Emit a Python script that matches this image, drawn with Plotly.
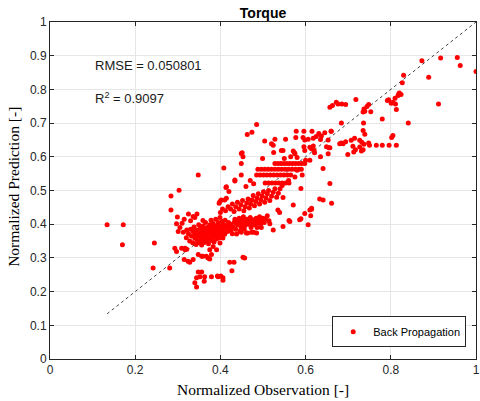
import plotly.graph_objects as go

# values, grouped by region of the scatter
# lone points far from the diagonal (left side)
left_obs = [0.134, 0.172, 0.170, 0.245, 0.242, 0.281, 0.284, 0.284, 0.303, 0.348, 0.408]
left_pred = [0.398, 0.398, 0.339, 0.344, 0.270, 0.270, 0.442, 0.484, 0.501, 0.546, 0.567]

# low tail under the main cluster
tail_obs = [0.293, 0.297, 0.317, 0.321, 0.315, 0.328, 0.336, 0.348, 0.356, 0.367, 0.375, 0.379,
            0.348, 0.356, 0.344, 0.352, 0.363, 0.379, 0.395, 0.406, 0.340, 0.344, 0.362, 0.393,
            0.401, 0.406, 0.422, 0.432, 0.427, 0.453, 0.457, 0.309, 0.317, 0.324, 0.375, 0.383,
            0.391, 0.399, 0.406, 0.359, 0.371]
tail_pred = [0.329, 0.319, 0.329, 0.326, 0.295, 0.287, 0.295, 0.310, 0.305, 0.305, 0.297, 0.310,
             0.258, 0.258, 0.241, 0.244, 0.244, 0.244, 0.244, 0.241, 0.226, 0.214, 0.231, 0.246,
             0.246, 0.234, 0.287, 0.287, 0.262, 0.302, 0.300, 0.329, 0.324, 0.290, 0.324, 0.334,
             0.324, 0.344, 0.359, 0.305, 0.300]

# dense core around (0.37, 0.37)
core_obs = [0.320, 0.325, 0.328, 0.330, 0.332, 0.335, 0.336, 0.338, 0.340, 0.341, 0.343, 0.344,
            0.346, 0.347, 0.349, 0.350, 0.351, 0.353, 0.354, 0.355, 0.356, 0.357, 0.358, 0.359,
            0.360, 0.361, 0.362, 0.363, 0.364, 0.365, 0.366, 0.367, 0.368, 0.369, 0.370, 0.371,
            0.372, 0.373, 0.374, 0.375, 0.376, 0.377, 0.378, 0.379, 0.380, 0.381, 0.382, 0.383,
            0.384, 0.385, 0.386, 0.387, 0.388, 0.389, 0.390, 0.391, 0.392, 0.393, 0.394, 0.395,
            0.396, 0.397, 0.398, 0.399, 0.400, 0.401, 0.402, 0.404, 0.405, 0.406, 0.408, 0.410,
            0.411, 0.413, 0.415, 0.417, 0.419, 0.421, 0.423, 0.425,
            0.299, 0.336, 0.297, 0.310, 0.301, 0.313, 0.321, 0.359, 0.305, 0.315, 0.325, 0.330,
            0.345, 0.340]
core_pred = [0.360, 0.372, 0.350, 0.385, 0.365, 0.345, 0.378, 0.392, 0.358, 0.370, 0.340, 0.383,
             0.352, 0.365, 0.398, 0.375, 0.345, 0.388, 0.360, 0.370, 0.338, 0.380, 0.352, 0.395,
             0.365, 0.374, 0.346, 0.386, 0.358, 0.405, 0.368, 0.378, 0.350, 0.390, 0.362, 0.372,
             0.342, 0.384, 0.356, 0.398, 0.366, 0.376, 0.412, 0.352, 0.388, 0.360, 0.370, 0.402,
             0.380, 0.347, 0.392, 0.364, 0.374, 0.415, 0.384, 0.356, 0.396, 0.368, 0.378, 0.405,
             0.388, 0.360, 0.372, 0.420, 0.382, 0.394, 0.366, 0.408, 0.376, 0.388, 0.398, 0.370,
             0.412, 0.385, 0.395, 0.378, 0.405, 0.390, 0.400, 0.382,
             0.421, 0.423, 0.401, 0.403, 0.378, 0.376, 0.383, 0.411, 0.390, 0.415, 0.430, 0.410,
             0.430, 0.420]

# flat band at 0.37-0.43 to the right of the core
band_obs = [0.428, 0.430, 0.432, 0.434, 0.436, 0.438, 0.440, 0.442, 0.444, 0.446, 0.448, 0.450,
            0.452, 0.454, 0.456, 0.458, 0.460, 0.462, 0.464, 0.466, 0.468, 0.470, 0.472, 0.474,
            0.476, 0.478, 0.480, 0.482, 0.484, 0.486, 0.488, 0.490, 0.492, 0.495, 0.498, 0.500,
            0.503, 0.506, 0.510, 0.514, 0.449, 0.461, 0.473, 0.485, 0.496, 0.516, 0.524, 0.535,
            0.539, 0.547, 0.561, 0.571, 0.589, 0.606, 0.612, 0.614, 0.563, 0.586]
band_pred = [0.372, 0.392, 0.405, 0.415, 0.385, 0.371, 0.398, 0.408, 0.418, 0.379, 0.392, 0.402,
             0.412, 0.422, 0.385, 0.396, 0.405, 0.415, 0.374, 0.400, 0.410, 0.420, 0.390, 0.403,
             0.413, 0.376, 0.398, 0.408, 0.418, 0.390, 0.403, 0.412, 0.422, 0.400, 0.410, 0.418,
             0.405, 0.415, 0.425, 0.410, 0.376, 0.374, 0.376, 0.374, 0.390, 0.401, 0.383, 0.442,
             0.435, 0.393, 0.411, 0.457, 0.416, 0.398, 0.425, 0.444, 0.408, 0.413]

# slanted streaks from (0.40, 0.43) up to (0.55, 0.51)
slant_obs = [0.400, 0.405, 0.412, 0.418, 0.424, 0.428, 0.432, 0.436, 0.440, 0.444, 0.448, 0.452,
             0.455, 0.458, 0.462, 0.465, 0.468, 0.471, 0.474, 0.477, 0.480, 0.483, 0.486, 0.489,
             0.492, 0.495, 0.498, 0.501, 0.504, 0.507, 0.510, 0.513, 0.516, 0.520, 0.524, 0.528,
             0.532, 0.536, 0.540, 0.545, 0.413, 0.420, 0.402, 0.397, 0.414, 0.399, 0.410, 0.414,
             0.434, 0.434]
slant_pred = [0.435, 0.445, 0.440, 0.452, 0.445, 0.460, 0.438, 0.452, 0.465, 0.445, 0.458, 0.470,
              0.440, 0.452, 0.463, 0.475, 0.448, 0.460, 0.472, 0.485, 0.455, 0.467, 0.478, 0.490,
              0.460, 0.472, 0.484, 0.496, 0.465, 0.478, 0.490, 0.500, 0.470, 0.483, 0.495, 0.505,
              0.480, 0.492, 0.505, 0.515, 0.509, 0.497, 0.472, 0.462, 0.477, 0.467, 0.472, 0.511,
              0.531, 0.528]

# horizontal rows at 0.52-0.60
rows_obs = [0.528, 0.535, 0.542, 0.549, 0.556, 0.563, 0.570, 0.577, 0.584, 0.591, 0.598,
            0.488, 0.496, 0.504, 0.512, 0.520, 0.528, 0.536, 0.544, 0.552, 0.560, 0.568, 0.576,
            0.584, 0.590,
            0.485, 0.493, 0.501, 0.509, 0.517, 0.525, 0.533, 0.541, 0.549, 0.557, 0.565,
            0.505, 0.513, 0.521, 0.529, 0.537, 0.545, 0.553, 0.561,
            0.550, 0.565, 0.580, 0.600, 0.610, 0.592, 0.589, 0.547, 0.610, 0.598, 0.641, 0.657,
            0.641, 0.661, 0.614, 0.633, 0.499, 0.453, 0.449, 0.451, 0.449, 0.449, 0.470, 0.478,
            0.460, 0.560, 0.575, 0.580]
rows_pred = [0.580, 0.580, 0.580, 0.580, 0.580, 0.580, 0.580, 0.580, 0.580, 0.580, 0.580,
             0.563, 0.563, 0.563, 0.563, 0.563, 0.563, 0.563, 0.563, 0.563, 0.563, 0.563, 0.563,
             0.563, 0.563,
             0.546, 0.546, 0.546, 0.546, 0.546, 0.546, 0.546, 0.546, 0.546, 0.546, 0.546,
             0.522, 0.522, 0.522, 0.522, 0.522, 0.522, 0.522, 0.522,
             0.595, 0.600, 0.598, 0.590, 0.590, 0.546, 0.506, 0.479, 0.442, 0.432, 0.565, 0.521,
             0.472, 0.462, 0.447, 0.475, 0.595, 0.600, 0.610, 0.612, 0.580, 0.546, 0.530, 0.520,
             0.512, 0.530, 0.540, 0.560]

# group at 0.60-0.70
mid_obs = [0.485, 0.474, 0.463, 0.504, 0.528, 0.553, 0.524, 0.520, 0.578, 0.596, 0.615, 0.631,
           0.645, 0.660, 0.577, 0.594, 0.598, 0.606, 0.618, 0.625, 0.637, 0.653, 0.596, 0.610,
           0.618, 0.649, 0.655, 0.547, 0.571, 0.574, 0.598, 0.621, 0.635, 0.680, 0.688, 0.635,
           0.620, 0.525, 0.543, 0.614, 0.653, 0.575]
mid_pred = [0.696, 0.673, 0.666, 0.647, 0.652, 0.652, 0.634, 0.639, 0.676, 0.676, 0.676, 0.669,
            0.671, 0.676, 0.657, 0.657, 0.650, 0.652, 0.655, 0.660, 0.662, 0.650, 0.630, 0.628,
            0.632, 0.630, 0.627, 0.619, 0.617, 0.612, 0.619, 0.612, 0.651, 0.639, 0.639, 0.600,
            0.619, 0.613, 0.619, 0.624, 0.609, 0.609]

# upper right points
top_obs = [0.873, 0.917, 0.956, 0.963, 1.000, 0.889, 0.830, 0.827, 0.817, 0.820, 0.824, 0.819,
           0.810, 0.805, 0.801, 0.792, 0.795, 0.811, 0.813, 0.912, 0.718, 0.748, 0.744, 0.737,
           0.739, 0.753, 0.735, 0.657, 0.663, 0.672, 0.676, 0.685, 0.694, 0.780, 0.841, 0.736,
           0.735, 0.739, 0.684, 0.660, 0.805, 0.802, 0.727, 0.732, 0.737, 0.748, 0.750, 0.766,
           0.780, 0.796, 0.813, 0.684, 0.694, 0.707, 0.715, 0.711, 0.717, 0.727, 0.731, 0.713,
           0.699, 0.735, 0.657]
top_pred = [0.885, 0.893, 0.895, 0.871, 0.853, 0.836, 0.842, 0.820, 0.782, 0.789, 0.785, 0.787,
            0.774, 0.762, 0.759, 0.767, 0.769, 0.757, 0.740, 0.757, 0.770, 0.755, 0.749, 0.742,
            0.735, 0.734, 0.733, 0.747, 0.752, 0.762, 0.757, 0.757, 0.755, 0.712, 0.700, 0.700,
            0.678, 0.667, 0.700, 0.676, 0.663, 0.657, 0.649, 0.643, 0.637, 0.641, 0.634, 0.634,
            0.634, 0.634, 0.634, 0.641, 0.645, 0.649, 0.655, 0.631, 0.621, 0.629, 0.617, 0.614,
            0.607, 0.621, 0.627]

obs = left_obs + tail_obs + core_obs + band_obs + slant_obs + rows_obs + mid_obs + top_obs
pred = left_pred + tail_pred + core_pred + band_pred + slant_pred + rows_pred + mid_pred + top_pred

ref_line = [0.134, 1.0]
rmse = 0.050801
r2 = 0.9097

axis_col = '#262626'
serif = 'Liberation Serif, Times New Roman, serif'
fig = go.Figure()
fig.add_trace(go.Scatter(x=ref_line, y=ref_line, mode='lines',
                         line=dict(color='#444444', width=1, dash='dot'),
                         showlegend=False, hoverinfo='skip'))
fig.add_trace(go.Scatter(x=obs, y=pred, mode='markers', name='Back Propagation',
                         marker=dict(color='#ff0000', size=5, line=dict(width=0))))

fig.add_annotation(x=0.1, y=0.87, xref='x', yref='y', text='RMSE = %.6f' % rmse,
                   showarrow=False, xanchor='left', font=dict(size=13, color='#1a1a1a'))
fig.add_annotation(x=0.1, y=0.774, xref='x', yref='y', text='R<sup>2</sup> = %.4f' % r2,
                   showarrow=False, xanchor='left', font=dict(size=13, color='#1a1a1a'))
# axis titles
fig.add_annotation(x=0.5, y=-0.09, xref='paper', yref='paper', text='Normalized Observation [-]',
                   showarrow=False, xanchor='center', yanchor='middle',
                   font=dict(family=serif, size=15.5, color='#000000'))
fig.add_annotation(x=-0.086, y=0.512, xref='paper', yref='paper', text='Normalized Prediction [-]',
                   showarrow=False, xanchor='center', yanchor='middle', textangle=-90,
                   font=dict(family=serif, size=15.5, color='#000000'))

fig.update_layout(
    width=480, height=401,
    margin=dict(l=50, r=4, t=22, b=42, autoexpand=False),
    plot_bgcolor='white', paper_bgcolor='white',
    font=dict(family='Liberation Sans, Arial, sans-serif', color=axis_col, size=12),
    title=dict(text='<b>Torque</b>', x=0.548, xanchor='center', y=0.968, yanchor='middle',
               font=dict(size=14, color='#000000')),
    legend=dict(x=0.977, y=0.035, xanchor='right', yanchor='bottom',
                bordercolor=axis_col, borderwidth=1, bgcolor='white',
                font=dict(size=11, color='#000000')),
    showlegend=True,
)
fig.update_xaxes(range=[0, 1], tickvals=[0, 0.2, 0.4, 0.6, 0.8, 1],
                 ticktext=['0', '0.2', '0.4', '0.6', '0.8', '1'],
                 showgrid=True, gridcolor='#e6e6e6', zeroline=False, automargin=False,
                 showline=True, linecolor=axis_col, linewidth=1, mirror='ticks',
                 ticks='inside', ticklen=4, tickcolor=axis_col)
fig.update_yaxes(range=[0, 1], tickvals=[i / 10 for i in range(11)],
                 ticktext=['0', '0.1', '0.2', '0.3', '0.4', '0.5', '0.6', '0.7', '0.8', '0.9', '1'],
                 showgrid=True, gridcolor='#e6e6e6', zeroline=False, automargin=False,
                 showline=True, linecolor=axis_col, linewidth=1, mirror='ticks',
                 ticks='inside', ticklen=4, tickcolor=axis_col)

# drop the default 8px page margin so the figure fills the window, and hide the modebar
fig.write_html("out.html", config={'displayModeBar': False},
               post_script="document.body.style.margin = '0px';")
